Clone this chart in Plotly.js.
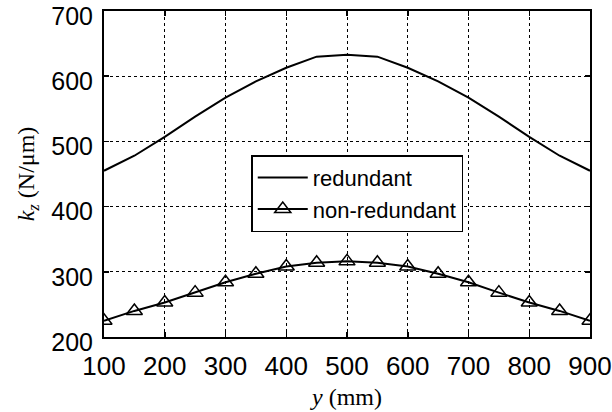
<!DOCTYPE html>
<html>
<head>
<meta charset="utf-8">
<script src="https://cdn.plot.ly/plotly-3.0.1.min.js"></script>
<style>html,body{margin:0;padding:0;background:#fff;}#chart{width:612px;height:412px;}</style>
</head>
<body>
<div id="chart"></div>
<script>
const yPositions = [100,150,200,250,300,350,400,450,500,550,600,650,700,750,800,850,900];
const redundant = [455,478,507,538,567,592,613,630,633,630,613,592,567,538,507,478,455];
const nonRedundant = [225,240,253,268,284,297,308,314,316,314,308,297,284,268,253,240,225];
const xTicks = [100,200,300,400,500,600,700,800,900];
const yTicks = [200,300,400,500,600,700];
const seriesNames = ['redundant','non-redundant'];

const traces = [
  {x: yPositions, y: redundant, name: seriesNames[0], mode: 'lines',
   line: {color: '#000', width: 2}},
  {x: yPositions, y: nonRedundant, name: seriesNames[1], mode: 'lines+markers',
   line: {color: '#000', width: 2},
   marker: {symbol: 'triangle-up-open', size: 14, color: '#000', line: {width: 1.5, color: '#000'}}}
];

const axisCommon = {
  showline: true, linecolor: '#000', linewidth: 2, mirror: 'ticks',
  ticks: 'inside', ticklen: 5, tickwidth: 1.5, tickcolor: '#000',
  showgrid: true, gridcolor: '#000', griddash: 'dot', gridwidth: 1,
  zeroline: false, ticklabeloverflow: 'allow',
  tickfont: {family: 'Liberation Sans, Arial, sans-serif', size: 26, color: '#000'}
};

const layout = {
  width: 612, height: 412,
  margin: {l: 104, r: 22, t: 11, b: 75},
  paper_bgcolor: '#fff', plot_bgcolor: '#fff',
  showlegend: true,
  legend: {x: 0.303, y: 0.558, xanchor: 'left', yanchor: 'top',
    bordercolor: '#000', borderwidth: 1.5, bgcolor: '#fff',
    font: {family: 'Liberation Sans, Arial, sans-serif', size: 22, color: '#000'},
    tracegroupgap: 0, itemwidth: 50},
  xaxis: Object.assign({}, axisCommon, {
    range: [100, 900], tickvals: xTicks, ticktext: xTicks.map(String),
    ticklabelstandoff: 5,
    title: {text: '<i>y</i> (mm)', standoff: 8,
      font: {family: 'Liberation Serif, Times New Roman, serif', size: 24, color: '#000'}}
  }),
  yaxis: Object.assign({}, axisCommon, {
    range: [200, 700], tickvals: yTicks, ticktext: yTicks.map(String),
    ticklabelstandoff: 4, ticklabelshift: 5,
    tickfont: {family: 'Liberation Sans, Arial, sans-serif', size: 25, color: '#000'},
    title: {text: '<i>k</i><sub><i>z</i></sub> (N/μm)', standoff: 10,
      font: {family: 'Liberation Serif, Times New Roman, serif', size: 24, color: '#000'}}
  })
};

Plotly.newPlot('chart', traces, layout, {displayModeBar: false, staticPlot: true});
</script>
</body>
</html>
